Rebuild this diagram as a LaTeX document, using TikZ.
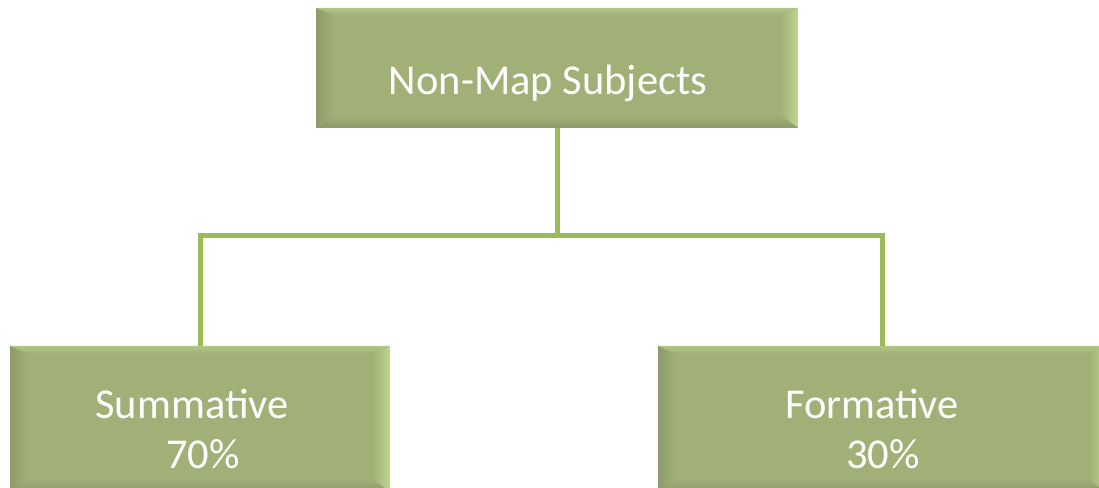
\documentclass[tikz,border=0pt]{standalone}
\usepackage{fontspec}
\setmainfont{Carlito}
\definecolor{boxgreen}{HTML}{A0B077}
\definecolor{bevtop}{HTML}{B2C587}
\definecolor{bevleft}{HTML}{8D9C6A}
\definecolor{bevright}{HTML}{BDD58E}
\definecolor{bevbottom}{HTML}{8C9B66}
\definecolor{linegreen}{HTML}{9BBB59}
\begin{document}
\begin{tikzpicture}[x=1pt,y=1pt,
  bevelbox/.style={draw=none, fill=boxgreen, inner sep=0pt,
    path picture={
      \coordinate (nw) at (path picture bounding box.north west);
      \coordinate (ne) at (path picture bounding box.north east);
      \coordinate (sw) at (path picture bounding box.south west);
      \coordinate (se) at (path picture bounding box.south east);
      \shade[top color=bevtop, bottom color=boxgreen] (nw) -- (ne) -- ([shift={(-18pt,-8pt)}]ne) -- ([shift={(18pt,-8pt)}]nw) -- cycle;
      \shade[left color=bevleft, right color=boxgreen] (nw) -- ([shift={(18pt,-8pt)}]nw) -- ([shift={(18pt,13pt)}]sw) -- (sw) -- cycle;
      \shade[left color=boxgreen, right color=bevright] (ne) -- (se) -- ([shift={(-18pt,13pt)}]se) -- ([shift={(-18pt,-8pt)}]ne) -- cycle;
      \shade[top color=boxgreen, bottom color=bevbottom] (sw) -- ([shift={(18pt,13pt)}]sw) -- ([shift={(-18pt,13pt)}]se) -- (se) -- cycle;
    }},
  label/.style={text=white, font=\fontsize{42.5}{50}\selectfont, anchor=base, inner sep=0pt},
  conn/.style={draw=linegreen, line width=5pt}
]
\useasboundingbox (0,0) rectangle (1099,487);
\node[bevelbox, minimum width=482pt, minimum height=120pt] (top) at (557,419) {};
\node[bevelbox, minimum width=380pt, minimum height=146pt] (left) at (200,68) {};
\node[bevelbox, minimum width=448pt, minimum height=146pt] (right) at (882,68) {};
\node[label] (toptext) at (548,392) {Non-Map Subjects};
\node[label] (lefttext) at (192,68) {Summative};
\node[label] (leftpct) at (203,19) {70\%};
\node[label] (righttext) at (872,68) {Formative};
\node[label] (rightpct) at (883,19) {30\%};
\coordinate (j) at (557,251);
\draw[conn] (top.south) -- (j);
\draw[conn] (left.north) |- (j) -| (right.north);
\end{tikzpicture}
\end{document}
